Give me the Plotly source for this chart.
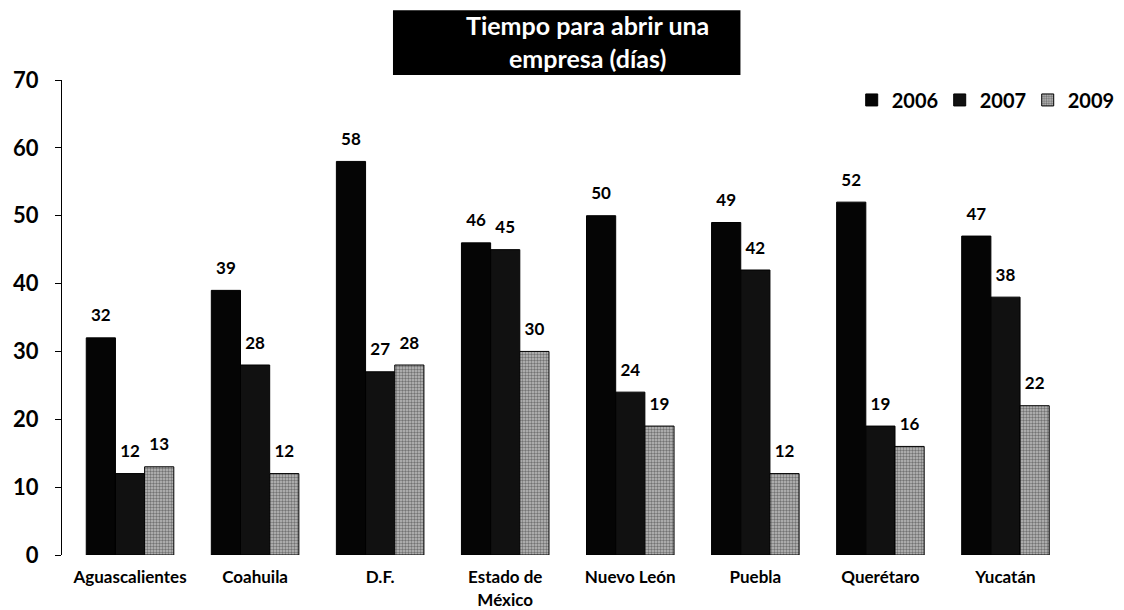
import plotly.graph_objects as go

estados = ["Aguascalientes", "Coahuila", "D.F.", "Estado de<br>México",
           "Nuevo León", "Puebla", "Querétaro", "Yucatán"]
dias_2006 = [32, 39, 58, 46, 50, 49, 52, 47]
dias_2007 = [12, 28, 27, 45, 24, 42, 19, 38]
dias_2009 = [13, 12, 28, 30, 19, 12, 16, 22]

FONT = "Lato"
lbl = dict(family=FONT, size=17, color="black", weight="bold")

series = [
    ("2006", dias_2006, dict(color="#050505", line=dict(color="black", width=1))),
    ("2007", dias_2007, dict(color="#111111", line=dict(color="black", width=1))),
    ("2009", dias_2009, dict(color="#8a8a8a", line=dict(color="black", width=1),
                             pattern=dict(shape=".", fgcolor="#2a2a2a", bgcolor="#bdbdbd",
                                          size=3, solidity=0.5))),
]

fig = go.Figure()
for name, vals, mk in series:
    fig.add_trace(go.Bar(name=name, x=estados, y=vals, marker=mk,
                         offsetgroup=name, alignmentgroup="g"))
# value labels sit a bit higher above the bars than plotly's own outside text
for name, vals, mk in series:
    fig.add_trace(go.Scatter(
        x=estados, y=vals, text=vals, mode="markers+text",
        textposition="top center", textfont=lbl, cliponaxis=False,
        marker=dict(size=18, opacity=0), offsetgroup=name, alignmentgroup="g",
        showlegend=False, hoverinfo="skip",
    ))

# page body has an 8px margin, so the figure coords are offset from the screenshot
fig.update_layout(
    width=1124, height=610,
    margin=dict(l=54, r=64, t=72, b=63, autoexpand=False),
    paper_bgcolor="white", plot_bgcolor="white",
    barmode="group", bargap=0.3, bargroupgap=0.0,
    scattermode="group", scattergap=0.3,
    font=dict(family=FONT, color="black"),
    showlegend=True,
    legend=dict(orientation="h", x=0.785, y=0.958, xanchor="left", yanchor="middle",
                font=dict(family=FONT, size=20, weight="bold"),
                itemwidth=30, entrywidth=43, tracegroupgap=0,
                bgcolor="rgba(0,0,0,0)"),
    shapes=[dict(type="rect", xref="paper", yref="paper",
                 x0=0.329, x1=0.6744, y0=1.0105, y1=1.147,
                 fillcolor="black", line=dict(width=0), layer="above")],
    annotations=[dict(
        text="Tiempo para abrir una<br>empresa (días)",
        xref="paper", yref="paper", x=0.522, y=1.08,
        xanchor="center", yanchor="middle", showarrow=False,
        font=dict(family=FONT, size=25, color="white", weight="bold"),
    )],
)

fig.update_yaxes(range=[0, 70], dtick=10, showgrid=False, zeroline=False,
                 showline=True, linecolor="black", linewidth=1,
                 ticks="outside", ticklen=6, tickcolor="black", automargin=False,
                 ticklabelstandoff=12,
                 tickfont=dict(family=FONT, size=22, weight="bold"))
fig.update_xaxes(range=[-0.544, 7.5], showgrid=False, showline=False, automargin=False,
                 ticks="outside", ticklen=7, tickcolor="rgba(0,0,0,0)",
                 tickfont=dict(family=FONT, size=17, weight="bold"))

fig.write_html("out.html")
